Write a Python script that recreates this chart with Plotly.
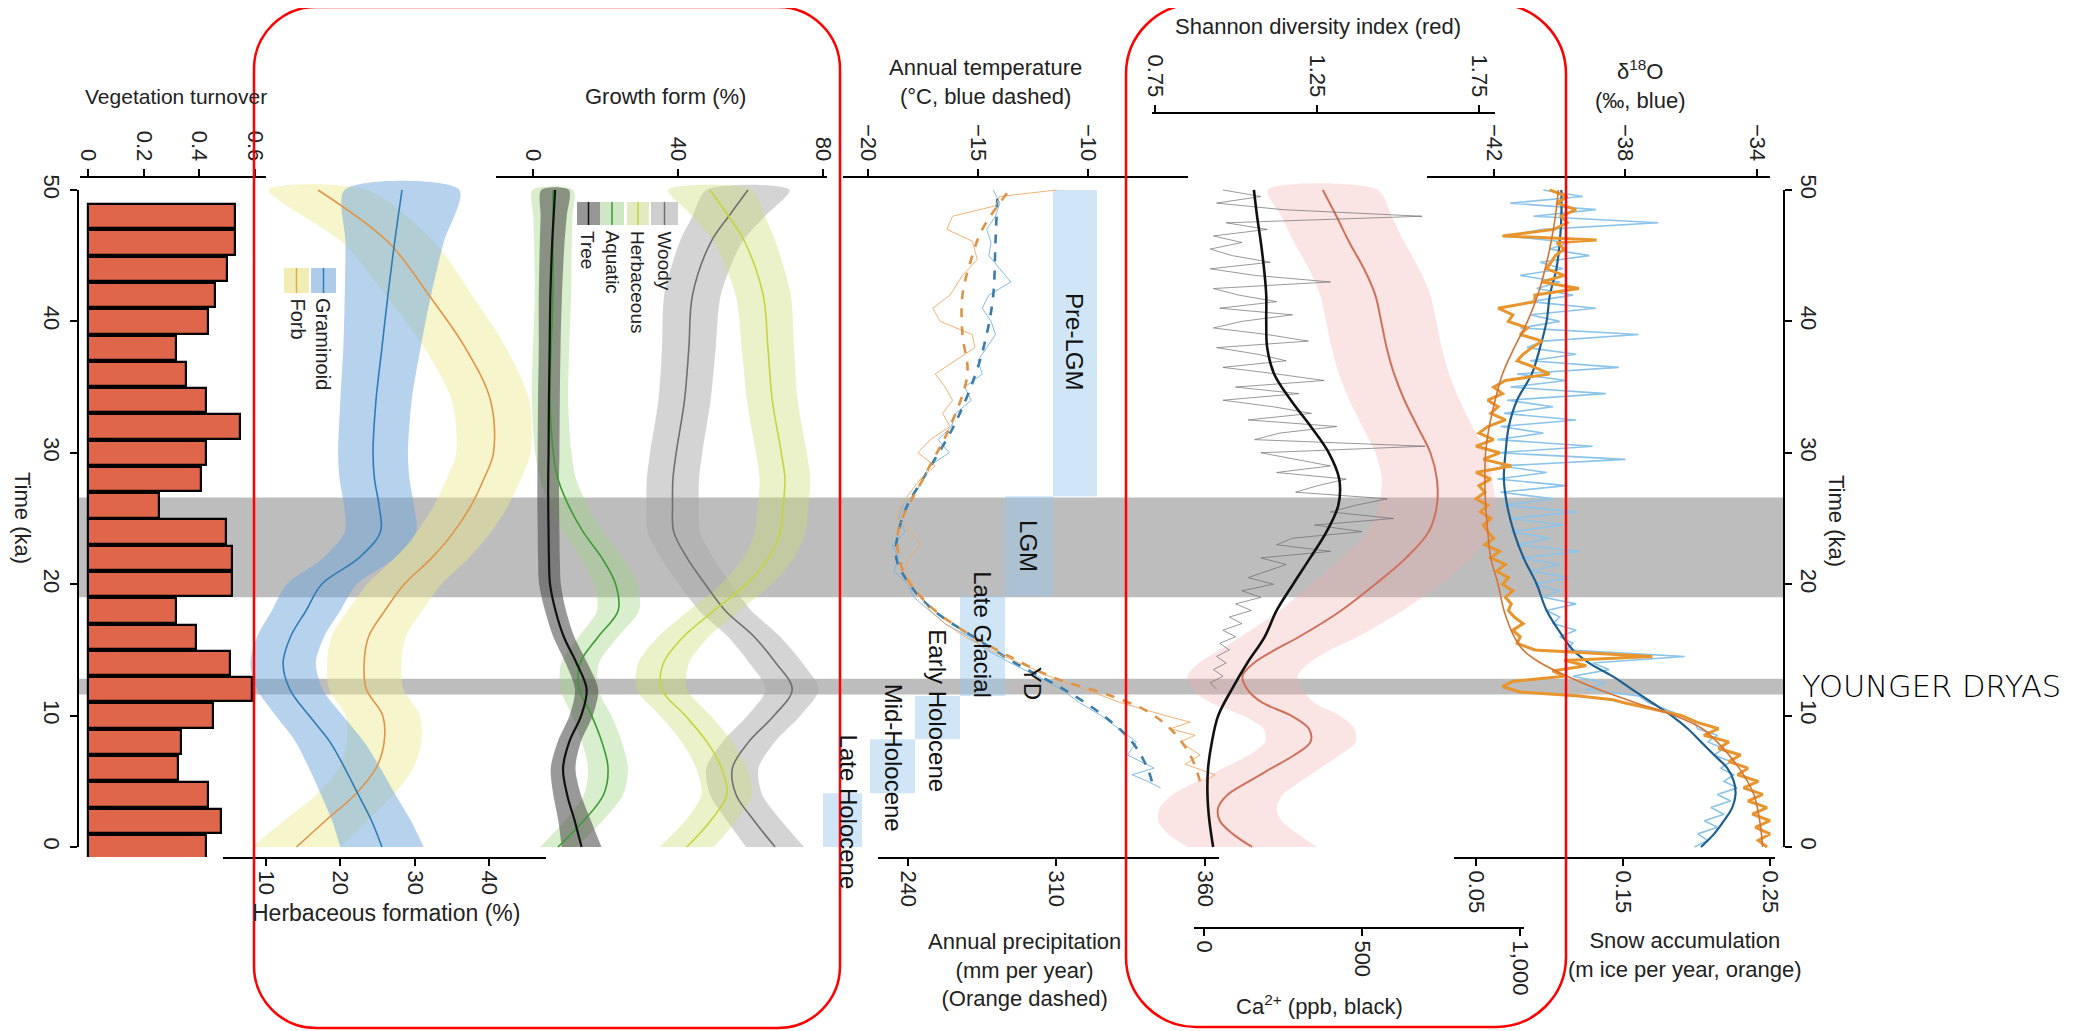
import plotly.graph_objects as go

W, H = 2073, 1031
OFF = 8  # page margin the browser adds around the figure
FONT = "Arial, Liberation Sans, Helvetica, sans-serif"

# ---------------- data ----------------
# vegetation turnover, one bar every 2 ka
turnover_ka = [0, 2, 4, 6, 8, 10, 12, 14, 16, 18, 20, 22, 24, 26, 28, 30, 32, 34, 36, 38, 40, 42, 44, 46, 48]
turnover = [0.424, 0.477, 0.432, 0.325, 0.334, 0.45, 0.588, 0.511, 0.387, 0.316, 0.518, 0.518, 0.495,
            0.256, 0.405, 0.424, 0.546, 0.424, 0.352, 0.316, 0.432, 0.458, 0.50, 0.528, 0.528]

# herbaceous formation (%)
herb_ka = [0, 2, 4, 6, 8, 10, 12, 14, 16, 18, 20, 22, 24, 26, 28, 30, 34, 38, 42, 46, 50]
graminoid = [25.6, 24.2, 22.4, 20.6, 18.6, 15.8, 13.2, 12.3, 13.3, 15.4, 17.5, 22.5, 25.4, 25.2, 24.6, 24.4, 24.8, 25.6, 26.4, 27.3, 28.3]
graminoid_sd = [5.6, 5.3, 5.0, 4.8, 4.6, 4.5, 4.4, 4.4, 4.5, 4.6, 4.7, 4.8, 4.8, 4.7, 4.7, 4.7, 4.8, 5.2, 5.8, 6.6, 7.7]
forb = [14.1, 18.0, 22.0, 24.8, 25.9, 25.7, 23.5, 23.2, 23.8, 26.0, 28.6, 32.3, 35.3, 37.6, 39.3, 40.6, 40.2, 36.8, 31.9, 26.5, 17.0]
forb_sd = [6.0, 5.6, 5.2, 5.0, 5.0, 5.0, 5.0, 5.0, 5.0, 5.0, 5.0, 5.0, 5.0, 5.0, 5.0, 5.0, 5.2, 5.5, 5.8, 6.2, 6.6]

# growth form (%)
gf_ka = [0, 2, 4, 6, 8, 10, 12, 14, 16, 18, 20, 22, 24, 26, 28, 30, 34, 38, 42, 46, 48, 50]
tree = [13.4, 11.5, 9.4, 8.3, 10.0, 13.3, 14.8, 12.0, 8.5, 6.2, 4.7, 4.4, 4.3, 4.2, 4.2, 4.3, 4.4, 4.6, 4.8, 5.3, 5.7, 6.1]
tree_sd = [5.5, 4.5, 3.8, 3.4, 3.2, 3.2, 3.2, 3.0, 2.9, 2.9, 3.0, 3.0, 3.0, 3.0, 3.0, 3.0, 3.0, 3.0, 3.2, 3.4, 3.6, 3.8]
aquatic = [6.9, 14.0, 19.5, 20.7, 19.0, 16.2, 12.8, 13.0, 18.0, 23.5, 22.8, 19.0, 13.8, 9.8, 6.9, 5.6, 4.7, 5.0, 5.5, 5.5, 5.5, 5.5]
aquatic_sd = [5.0, 5.2, 5.4, 5.5, 5.5, 5.4, 5.2, 5.2, 5.4, 5.8, 6.0, 5.8, 5.5, 5.2, 5.0, 5.0, 5.0, 5.0, 5.0, 5.2, 5.4, 5.6]
herbaceous = [42.4, 49.0, 53.5, 52.0, 48.0, 42.0, 35.5, 36.0, 41.5, 50.0, 58.8, 65.0, 68.2, 69.0, 69.5, 68.5, 66.0, 64.8, 63.5, 58.5, 54.0, 48.8]
herbaceous_sd = [7.5, 7.0, 7.0, 7.0, 7.0, 7.0, 7.0, 7.0, 7.0, 7.0, 7.0, 7.0, 7.0, 7.0, 7.0, 7.0, 7.0, 7.2, 7.6, 8.5, 10.0, 11.5]
woody = [66.8, 61.0, 56.0, 55.0, 59.5, 66.5, 71.5, 67.0, 61.0, 53.0, 47.5, 42.5, 38.8, 38.5, 38.6, 39.5, 41.8, 43.0, 44.0, 49.0, 54.0, 59.3]
woody_sd = [8.0, 7.5, 7.2, 7.2, 7.2, 7.3, 7.3, 7.3, 7.2, 7.2, 7.2, 7.2, 7.2, 7.2, 7.2, 7.2, 7.2, 7.4, 7.8, 8.6, 10.0, 11.5]

# annual temperature (deg C) and precipitation (mm per year)
temp_ka = [5, 6, 8, 10, 12, 14, 16, 18, 20, 22, 24, 26, 28, 32, 36, 39, 42, 46, 50]
temp_smooth = [-7.1, -7.3, -8.0, -9.3, -11.1, -13.3, -15.2, -17.0, -18.1, -18.7, -18.6, -18.2, -17.5, -16.1, -15.1, -14.6, -14.3, -14.2, -14.1]
temp_raw_ka = [50, 49, 48, 47, 46, 45, 44, 43, 42, 41, 40, 39, 38, 37, 36, 35, 34, 33, 32, 31, 30, 29, 28, 27, 26,
               25, 24, 23, 22, 21, 20, 19, 18, 17, 16, 15, 14, 13, 12, 11, 10, 9, 8, 7, 6, 5.5, 5, 4.5]
temp_raw = [-14.3, -14.0, -14.2, -14.6, -14.4, -14.5, -14.0, -13.5, -14.5, -14.8, -14.4, -14.2, -14.6, -15.0, -14.8,
            -15.6, -15.3, -16.0, -16.2, -16.8, -16.3, -17.2, -17.5, -17.8, -18.4, -18.6, -18.3, -18.9, -18.6, -18.8,
            -18.2, -17.9, -17.2, -16.5, -15.4, -14.6, -13.5, -12.3, -11.2, -10.4, -9.4, -8.6, -7.8, -8.2, -7.0, -8.0, -7.3, -6.7]
precip_ka = [5, 7, 9, 10.4, 11.7, 12.8, 14.5, 16.5, 18.5, 21, 24, 28, 32, 36, 39, 42, 45, 47, 50]
precip_smooth = [358, 354, 346, 336, 319, 300, 281, 262, 248, 238, 236, 246, 257, 264, 262, 262, 266, 270, 281]
precip_raw_ka = [50, 49.5, 48.8, 48, 47, 46.1, 44.7, 43.5, 42, 41, 40, 39, 38, 37, 36, 35, 34, 33, 32, 31, 30, 29, 28,
                 27, 26, 25, 24, 23, 22, 21, 20, 19, 18, 17, 16, 15, 14, 13, 12, 11, 10, 9.5, 9, 8.5, 8, 7, 6.3, 5.5, 5]
precip_raw = [300, 277, 275.5, 258, 255.7, 266, 268, 262, 257, 250, 253, 266, 267, 259, 251, 255, 258, 254, 257, 249,
              244, 251, 245, 241, 237, 235.5, 241, 245, 240, 239, 242, 245, 249, 255, 263, 273, 285, 297, 311.5, 325.7,
              344, 354, 346, 356, 350, 358, 352, 364, 360]

# Shannon diversity index
shannon_ka = [0, 1, 2, 3, 4, 5, 6, 7, 8, 9, 10, 11, 12, 13, 14, 15, 16, 18, 20, 22, 24, 26, 28, 30, 32, 34, 36, 38, 40, 42, 44, 46, 48, 50]
shannon = [1.05, 0.99, 0.95, 0.945, 0.975, 1.04, 1.11, 1.18, 1.23, 1.225, 1.17, 1.08, 1.035, 1.02, 1.055, 1.12, 1.195,
           1.325, 1.43, 1.525, 1.595, 1.62, 1.62, 1.60, 1.56, 1.52, 1.488, 1.465, 1.448, 1.43, 1.395, 1.35, 1.31, 1.268]
shannon_sd = [0.2, 0.2, 0.19, 0.18, 0.17, 0.16, 0.15, 0.14, 0.14, 0.14, 0.15, 0.16, 0.17, 0.17, 0.17, 0.17, 0.18,
              0.19, 0.2, 0.2, 0.19, 0.18, 0.17, 0.17, 0.17, 0.17, 0.17, 0.17, 0.17, 0.17, 0.17, 0.17, 0.17, 0.17]

# Ca2+ (ppb)
ca_ka = [0, 2, 4, 6, 8, 10, 12, 14, 16, 18, 20, 22, 24, 26, 28, 30, 32, 34, 36, 38, 40, 42, 44, 46, 48, 50]
ca_smooth = [29, 17, 11, 13, 25, 45, 88, 137, 192, 230, 282, 336, 388, 425, 428, 395, 338, 275, 222, 200, 197, 197, 190, 180, 168, 158]
ca_raw_ka = [50 - 0.5 * i for i in range(77)]
ca_raw = [60, 180, 40, 250, 690, 70, 200, 30, 120, 20,
          90, 210, 20, 160, 400, 30, 110, 230, 50, 280,
          120, 30, 200, 330, 40, 170, 260, 60, 230, 380,
          100, 300, 60, 220, 340, 140, 420, 240, 160, 700,
          180, 290, 400, 230, 450, 360, 290, 580, 480, 400,
          600, 350, 500, 280, 230, 400, 180, 260, 200, 140,
          220, 120, 180, 100, 150, 80, 120, 60, 100, 50,
          80, 40, 70, 30, 60, 20, 40]

# delta 18O (permil)
d18o_ka = [0, 1, 2, 3, 4, 5, 6, 7, 8, 9, 10, 11, 12, 13, 14, 15, 16, 18, 20, 22, 24, 26, 28, 30, 32, 34, 36, 38, 40, 42, 44, 46, 48, 50]
d18o_smooth = [-35.7, -35.3, -35.0, -34.75, -34.65, -34.7, -34.9, -35.3, -35.7, -36.1, -36.6, -37.2, -37.8, -38.4, -39.1,
               -39.6, -39.9, -40.4, -40.7, -41.1, -41.4, -41.6, -41.7, -41.65, -41.55, -41.3, -40.85, -40.6, -40.4,
               -40.3, -40.1, -40.0, -39.95, -39.95]
d18o_raw_ka = [50 - 0.5 * i for i in range(101)]
d18o_raw = [-40.5, -39.3, -41.5, -38.9, -40.8, -37.0, -40.5, -41.6, -39.7, -40.3,
            -39.1, -40.6, -39.9, -41.2, -40.0, -40.7, -39.6, -40.9, -38.9, -40.9,
            -40.0, -41.2, -37.6, -40.5, -41.0, -39.5, -40.9, -38.2, -41.3, -39.8,
            -41.5, -38.6, -41.6, -40.2, -41.7, -39.5, -41.8, -40.5, -41.9, -39.0,
            -41.9, -38.0, -41.8, -40.4, -41.9, -39.8, -41.8, -40.2, -41.7, -39.5,
            -41.5, -39.9, -41.5, -40.3, -41.3, -39.4, -41.2, -40.0, -40.9, -39.7,
            -40.8, -40.0, -40.5, -39.5, -40.4, -40.0, -40.2, -39.5, -40.0, -39.6,
            -39.8, -36.2, -39.0, -38.5, -39.6, -38.6, -39.2, -37.6, -37.3, -36.8,
            -36.3, -35.9, -35.8, -35.2, -35.5, -35.0, -35.3, -34.8, -35.1, -34.7,
            -35.0, -34.6, -35.2, -34.8, -35.4, -35.0, -35.6, -35.2, -35.8, -35.5,
            -35.9]

# snow accumulation (m ice per year)
snow_ka = [0, 2, 4, 6, 8, 9, 10, 11, 12, 13, 14, 15, 16, 18, 20, 22, 24, 26, 28, 30, 32, 34, 36, 38, 40, 42, 44, 46, 48, 50]
snow_smooth = [0.245, 0.243, 0.239, 0.229, 0.214, 0.204, 0.185, 0.158, 0.133, 0.112, 0.094, 0.082, 0.076, 0.069, 0.065,
               0.06, 0.058, 0.0565, 0.056, 0.0565, 0.059, 0.063, 0.068, 0.076, 0.085, 0.092, 0.097, 0.101, 0.104, 0.106]
snow_raw_ka = [50.0, 49.5, 49.0, 48.5, 48.0, 47.5, 47.0, 46.5, 46.2, 46.0, 45.5, 45.0, 44.0, 43.5, 43.0, 42.5, 42.0,
               41.5, 41.0, 40.5, 40.0, 39.5, 39.0, 38.5, 38.0, 37.5, 37.0, 36.5, 36.0, 35.5, 35.0, 34.5, 34.0, 33.5,
               33.0, 32.5, 32.0, 31.5, 31.0, 30.5, 30.0, 29.5, 29.0, 28.5, 28.0, 27.5, 27.0, 26.5, 26.0, 25.5, 25.0,
               24.5, 24.0, 23.5, 23.0, 22.5, 22.0, 21.5, 21.0, 20.5, 20.0, 19.5, 19.0, 18.5, 18.0, 17.5, 17.0, 16.5,
               16.0, 15.5, 15.0, 14.5, 14.2, 13.8, 13.4, 13.0, 12.6, 12.2, 11.8, 11.5, 11.2, 11.0, 10.5, 10.0, 9.5,
               9.0, 8.5, 8.0, 7.5, 7.0, 6.5, 6.0, 5.5, 5.0, 4.5, 4.0, 3.5, 3.0, 2.5, 2.0, 1.5, 1.0, 0.5, 0.0]
snow_raw = [0.10, 0.112, 0.105, 0.118, 0.108, 0.112, 0.103, 0.068, 0.132, 0.105, 0.11, 0.104, 0.098, 0.11, 0.095, 0.12,
            0.09, 0.09, 0.065, 0.075, 0.072, 0.085, 0.08, 0.095, 0.088, 0.082, 0.078, 0.09, 0.1, 0.07, 0.062, 0.068,
            0.058, 0.065, 0.06, 0.07, 0.058, 0.052, 0.062, 0.05, 0.066, 0.055, 0.074, 0.05, 0.06, 0.052, 0.056, 0.05,
            0.058, 0.053, 0.06, 0.055, 0.058, 0.062, 0.056, 0.066, 0.06, 0.07, 0.064, 0.072, 0.068, 0.075, 0.07, 0.074,
            0.072, 0.076, 0.082, 0.075, 0.08, 0.078, 0.09, 0.17, 0.11, 0.125, 0.102, 0.11, 0.075, 0.068, 0.08, 0.12,
            0.143, 0.15, 0.17, 0.19, 0.2, 0.215, 0.205, 0.222, 0.215, 0.23, 0.222, 0.235, 0.228, 0.242, 0.232, 0.245,
            0.235, 0.248, 0.238, 0.25, 0.24, 0.25, 0.242, 0.248]

# shaded intervals and periods (ka)
lgm_band = (19.0, 26.6)
yd_band = (11.6, 12.8)
period_names = ["Pre-LGM", "LGM", "Late Glacial", "Early Holocene", "Mid-Holocene", "Late Holocene"]
period_start = [26.7, 19.1, 11.5, 8.2, 4.1, 0.0]
period_end = [50.0, 26.7, 19.1, 11.5, 8.2, 4.1]
period_label_ka = [38.5, 22.9, 16.2, 10.4, 6.8, 2.7]

# ---------------- geometry helpers (page pixels -> paper) ----------------
def fx(p):
    return (p - OFF) / W

def fy(p):
    return 1 - (p - OFF) / H

T_TOP, T_BOT = 178, 857
T_RANGE = [-0.76, 50.91]

def t_paper(t):
    return fy(T_BOT - (t - T_RANGE[0]) / (T_RANGE[1] - T_RANGE[0]) * (T_BOT - T_TOP))

AX = dict(showline=True, linecolor="black", linewidth=2, ticks="outside", ticklen=7, tickwidth=2,
          tickcolor="black", tickangle=90, tickfont=dict(size=22, family=FONT, color="#222"),
          showgrid=False, zeroline=False, fixedrange=True, automargin=False)

def xax(x0, x1, rng, vals, side, text=None, pos=None):
    d = dict(AX, domain=[fx(x0), fx(x1)], range=rng, side=side, tickvals=vals)
    if text:
        d["ticktext"] = text
    if pos is None:
        d["anchor"] = "y"
    else:
        d["anchor"] = "free"
        d["position"] = fy(pos)
    return d

fig = go.Figure()

def band(t, c, sd, xa, color):
    up = [a + b for a, b in zip(c, sd)]
    lo = [a - b for a, b in zip(c, sd)]
    fig.add_trace(go.Scatter(x=up + lo[::-1], y=t + t[::-1], fill="toself", fillcolor=color,
                             mode="lines", line=dict(width=0, shape="spline", smoothing=0.8),
                             xaxis=xa, yaxis="y", hoverinfo="skip"))

def line(t, v, xa, color, width, dash="solid", shape="spline"):
    fig.add_trace(go.Scatter(x=v, y=t, mode="lines", xaxis=xa, yaxis="y", hoverinfo="skip",
                             line=dict(color=color, width=width, dash=dash, shape=shape)))

# vegetation turnover bars
fig.add_trace(go.Bar(x=turnover, y=turnover_ka, orientation="h", width=1.85, xaxis="x", yaxis="y",
                     marker=dict(color="#E0664B", line=dict(color="black", width=2.2)), hoverinfo="skip"))

# herbaceous formation
band(herb_ka, forb, forb_sd, "x2", "rgba(235,232,140,0.45)")
band(herb_ka, graminoid, graminoid_sd, "x2", "rgba(110,165,220,0.5)")
line(herb_ka, forb, "x2", "#E0954A", 1.6)
line(herb_ka, graminoid, "x2", "#2F7DB5", 1.6)

# growth form
band(gf_ka, woody, woody_sd, "x3", "rgba(170,170,170,0.5)")
band(gf_ka, herbaceous, herbaceous_sd, "x3", "rgba(205,222,120,0.4)")
band(gf_ka, aquatic, aquatic_sd, "x3", "rgba(160,212,130,0.4)")
band(gf_ka, tree, tree_sd, "x3", "rgba(70,70,70,0.55)")
line(gf_ka, woody, "x3", "#707070", 1.6)
line(gf_ka, herbaceous, "x3", "#C3D63E", 1.6)
line(gf_ka, aquatic, "x3", "#3E9A34", 1.6)
line(gf_ka, tree, "x3", "#111111", 2.2)

# temperature / precipitation
line(temp_raw_ka, temp_raw, "x4", "rgba(120,180,225,0.9)", 1, shape="linear")
line(temp_ka, temp_smooth, "x4", "#3B7CA8", 2.6, dash="dash")
line(precip_raw_ka, precip_raw, "x5", "rgba(240,170,100,0.9)", 1, shape="linear")
line(precip_ka, precip_smooth, "x5", "#DD9448", 2.6, dash="dash")

# Shannon / Ca2+
band(shannon_ka, shannon, shannon_sd, "x6", "rgba(240,170,170,0.32)")
line(shannon_ka, shannon, "x6", "#D0705C", 2)
line(ca_raw_ka, ca_raw, "x7", "rgba(110,110,110,0.7)", 1, shape="linear")
line(ca_ka, ca_smooth, "x7", "#111111", 2.6)

# d18O / snow accumulation
line(d18o_raw_ka, d18o_raw, "x8", "#8CC4EA", 1.6, shape="linear")
line(d18o_ka, d18o_smooth, "x8", "#1F5F8F", 2.2)
line(snow_raw_ka, snow_raw, "x9", "#E8952E", 3, shape="linear")
line(snow_ka, snow_smooth, "x9", "#D47436", 1.6)

# carriers for the two visible time axes
fig.add_trace(go.Scatter(x=[None], y=[None], xaxis="x", yaxis="y2", hoverinfo="skip"))
fig.add_trace(go.Scatter(x=[None], y=[None], xaxis="x", yaxis="y3", hoverinfo="skip"))

shapes = []
for b0, b1 in [lgm_band, yd_band]:
    shapes.append(dict(type="rect", xref="paper", yref="paper", x0=fx(79), x1=fx(1783),
                       y0=t_paper(b0), y1=t_paper(b1), fillcolor="#BDBDBD", line=dict(width=0), layer="below"))

box_x = [(1053, 1097), (1005, 1053), (960, 1005), (915, 960), (870, 915), (823, 862)]
for (x0, x1), s, e in zip(box_x, period_start, period_end):
    shapes.append(dict(type="rect", xref="paper", yref="paper", x0=fx(x0), x1=fx(x1),
                       y0=t_paper(s), y1=t_paper(e), fillcolor="rgba(150,200,235,0.45)",
                       line=dict(width=0), layer="below"))

# legend swatches
def swatch(x0, x1, y0, y1, fill, lcol):
    shapes.append(dict(type="rect", xref="paper", yref="paper", x0=fx(x0), x1=fx(x1), y0=fy(y1), y1=fy(y0),
                       fillcolor=fill, line=dict(width=0)))
    xm = (x0 + x1) / 2
    shapes.append(dict(type="line", xref="paper", yref="paper", x0=fx(xm), x1=fx(xm), y0=fy(y1), y1=fy(y0),
                       line=dict(color=lcol, width=1.5)))

swatch(284, 309, 268, 293, "rgba(235,230,150,0.7)", "#D9B050")
swatch(311, 336, 268, 293, "rgba(120,170,220,0.6)", "#2F7DB5")
swatch(577, 600, 202, 225, "rgba(80,80,80,0.6)", "#111111")
swatch(600, 624, 202, 225, "rgba(170,212,150,0.55)", "#3E9A34")
swatch(627, 649, 202, 225, "rgba(215,225,165,0.7)", "#C3D63E")
swatch(651, 678, 202, 225, "rgba(190,190,190,0.75)", "#707070")

# red rounded outlines
def rounded(x0, y0, x1, y1, r):
    k = 0.5523 * r
    p = [f"M {fx(x0 + r)},{fy(y0)}", f"L {fx(x1 - r)},{fy(y0)}",
         f"C {fx(x1 - r + k)},{fy(y0)} {fx(x1)},{fy(y0 + r - k)} {fx(x1)},{fy(y0 + r)}",
         f"L {fx(x1)},{fy(y1 - r)}",
         f"C {fx(x1)},{fy(y1 - r + k)} {fx(x1 - r + k)},{fy(y1)} {fx(x1 - r)},{fy(y1)}",
         f"L {fx(x0 + r)},{fy(y1)}",
         f"C {fx(x0 + r - k)},{fy(y1)} {fx(x0)},{fy(y1 - r + k)} {fx(x0)},{fy(y1 - r)}",
         f"L {fx(x0)},{fy(y0 + r)}",
         f"C {fx(x0)},{fy(y0 + r - k)} {fx(x0 + r - k)},{fy(y0)} {fx(x0 + r)},{fy(y0)}", "Z"]
    return dict(type="path", xref="paper", yref="paper", path=" ".join(p),
                line=dict(color="#FF0000", width=2.5), layer="above")

shapes.append(rounded(254, 7, 840, 1028, 62))
shapes.append(rounded(1126, 4, 1566, 1027, 70))

annotations = []

def note(text, x, y, size=22, angle=0, xanchor="center", yanchor="middle", family=FONT, color="#222", weight=None):
    yy = y[0] if isinstance(y, tuple) else fy(y)
    font = dict(size=size, family=family, color=color)
    if weight:
        font["weight"] = weight
    annotations.append(dict(text=text, x=fx(x), y=yy, xref="paper", yref="paper", showarrow=False,
                            textangle=angle, xanchor=xanchor, yanchor=yanchor, font=font))

note("Vegetation turnover", 176, 97, size=21)
note("Growth form (%)", 665, 97)
note("Annual temperature<br>(°C, blue dashed)", 985, 82)
note("Shannon diversity index (red)", 1318, 26)
note("δ<sup>18</sup>O<br>(‰, blue)", 1640, 85)
note("Herbaceous formation (%)", 386, 913, size=23)
note("Annual precipitation<br>(mm per year)<br>(Orange dashed)", 1024, 970)
note("Ca<sup>2+</sup> (ppb, black)", 1319, 1005)
note("Snow accumulation<br>(m ice per year, orange)", 1685, 955)
note("Time (ka)", 23, 518, angle=90)
note("Time (ka)", 1837, 521, angle=90)
note("YOUNGER DRYAS", 1800, 686, size=30.5, xanchor="left", family="DejaVu Sans", weight=200, color="#000")

note("Forb", 298, 296, size=20, angle=90, yanchor="top")
note("Graminoid", 323, 296, size=20, angle=90, yanchor="top")
for name, xc in zip(["Tree", "Aquatic", "Herbaceous", "Woody"], [588, 612, 638, 664]):
    note(name, xc, 229, size=19, angle=90, yanchor="top")

label_x = [1075, 1029, 983, 938, 893, 848]
for name, xc, t in zip(period_names, label_x, period_label_ka):
    note(name, xc, (t_paper(t),), size=24, angle=90, color="#111")
note("YD", 1032, (t_paper(12.5),), size=24, angle=90, color="#111")

fig.update_layout(
    width=W, height=H, margin=dict(l=0, r=0, t=0, b=0, autoexpand=False),
    paper_bgcolor="white", plot_bgcolor="rgba(0,0,0,0)", showlegend=False,
    font=dict(family=FONT), bargap=0,
    xaxis=xax(80, 266, [-0.0287, 0.6396], [0, 0.2, 0.4, 0.6], "top"),
    xaxis2=xax(223, 546, [4.215, 47.67], [10, 20, 30, 40], "bottom"),
    xaxis3=xax(496, 827, [-10.2, 81.1], [0, 40, 80], "top"),
    xaxis4=xax(843, 1188, [-21.12, -5.46], [-20, -15, -10], "top"),
    xaxis5=xax(878, 1219, [227.88, 365.66], [240, 300, 360], "bottom", text=["240", "310", "360"]),
    xaxis6=xax(1152, 1495, [0.7407, 1.7994], [0.75, 1.25, 1.75], "top", pos=113),
    xaxis7=xax(1194, 1524, [-31.6, 1012.7], [0, 500, 1000], "bottom", text=["0", "500", "1,000"], pos=928),
    xaxis8=xax(1427, 1770, [-44.04, -33.60], [-42, -38, -34], "top"),
    xaxis9=xax(1454, 1775, [0.035, 0.2534], [0.05, 0.15, 0.25], "bottom"),
    yaxis=dict(domain=[fy(T_BOT), fy(T_TOP)], range=T_RANGE, visible=False, fixedrange=True, automargin=False),
    yaxis2=dict(AX, domain=[fy(847), fy(190)], range=[0, 50], tickvals=[0, 10, 20, 30, 40, 50],
                anchor="free", position=fx(78), side="left"),
    yaxis3=dict(AX, domain=[fy(847), fy(190)], range=[0, 50], tickvals=[0, 10, 20, 30, 40, 50],
                anchor="free", position=fx(1784), side="right"),
    shapes=shapes, annotations=annotations,
)

fig.write_html("out.html")
